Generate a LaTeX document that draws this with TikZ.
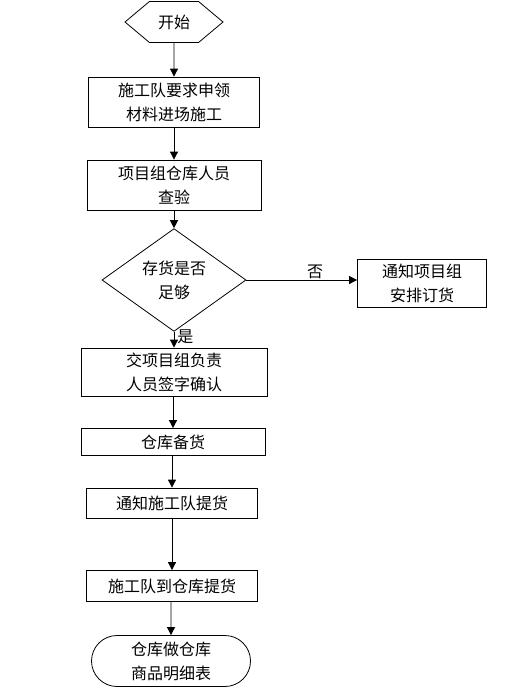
\documentclass[tikz,border=0pt]{standalone}
\usepackage{fontspec}
\setmainfont{Noto Sans CJK SC}
\usetikzlibrary{shapes}
\usetikzlibrary{shapes.geometric}
\usetikzlibrary{shapes.symbols}
\usetikzlibrary{positioning}
\usetikzlibrary{arrows.meta}
\tikzset{
    mybox/.style = {rectangle, draw=black, line width=0.8pt, align=center, inner sep=0pt, font=\fontsize{16}{24}\selectfont, text=black},
    mystart/.style = {signal, signal to=west and east, signal pointer angle=80, draw=black, line width=0.8pt, inner sep=0pt, font=\fontsize{16}{24}\selectfont},
    mydecide/.style = {diamond, draw=black, line width=0.8pt, align=center, inner sep=0pt, font=\fontsize{16}{24}\selectfont},
    myend/.style = {rounded rectangle, draw=black, line width=0.8pt, align=center, inner sep=0pt, font=\fontsize{16}{24}\selectfont},
    edgen/.style = {-{Triangle[length=8pt,width=8pt]}, line width=0.8pt, black},
    mylabel/.style = {font=\fontsize{16}{18}\selectfont, inner sep=1pt}
}
\begin{document}
\begin{tikzpicture}[x=1pt, y=-1pt]
  \useasboundingbox (0,0) rectangle (529,688);

  \node[mystart, minimum width=98pt, minimum height=41pt] (start) at (174,22) {开始};
  \node[mybox, minimum width=171pt, minimum height=50pt] (apply) at (174,102) {施工队要求申领\\材料进场施工};
  \node[mybox, minimum width=174pt, minimum height=50pt] (check) at (174,185) {项目组仓库人员\\查验};
  \node[mydecide, minimum width=144pt, minimum height=73pt] (enough) at (174,280) {存货是否\\足够};
  \node[mybox, minimum width=129pt, minimum height=48pt] (order) at (422,283) {通知项目组\\安排订货};
  \node[mybox, minimum width=186pt, minimum height=48pt] (sign) at (174,372) {交项目组负责\\人员签字确认};
  \node[mybox, minimum width=184pt, minimum height=27pt] (stock) at (173,442) {仓库备货};
  \node[mybox, minimum width=171pt, minimum height=30pt] (notify) at (172,503) {通知施工队提货};
  \node[mybox, minimum width=171pt, minimum height=31pt] (pick) at (172,586) {施工队到仓库提货};
  \node[myend, minimum width=159pt, minimum height=51pt] (list) at (171,661) {仓库做仓库\\商品明细表};

  \draw[edgen] (start) -- (apply);
  \draw[edgen] (apply) -- (check);
  \draw[edgen] (check) -- (enough);
  \draw[edgen] (enough.east) -- node[mylabel, above, pos=0.62] {否} (enough.east -| order.west);
  \draw[edgen] (enough) -- node[mylabel, right, pos=0.3, xshift=2pt] {是} (sign);
  \draw[edgen] (sign.south -| stock) -- (stock);
  \draw[edgen] (stock.south -| notify) -- (notify);
  \draw[edgen] (notify) -- (pick);
  \draw[edgen] (pick.south -| list) -- (list);

\end{tikzpicture}
\end{document}
